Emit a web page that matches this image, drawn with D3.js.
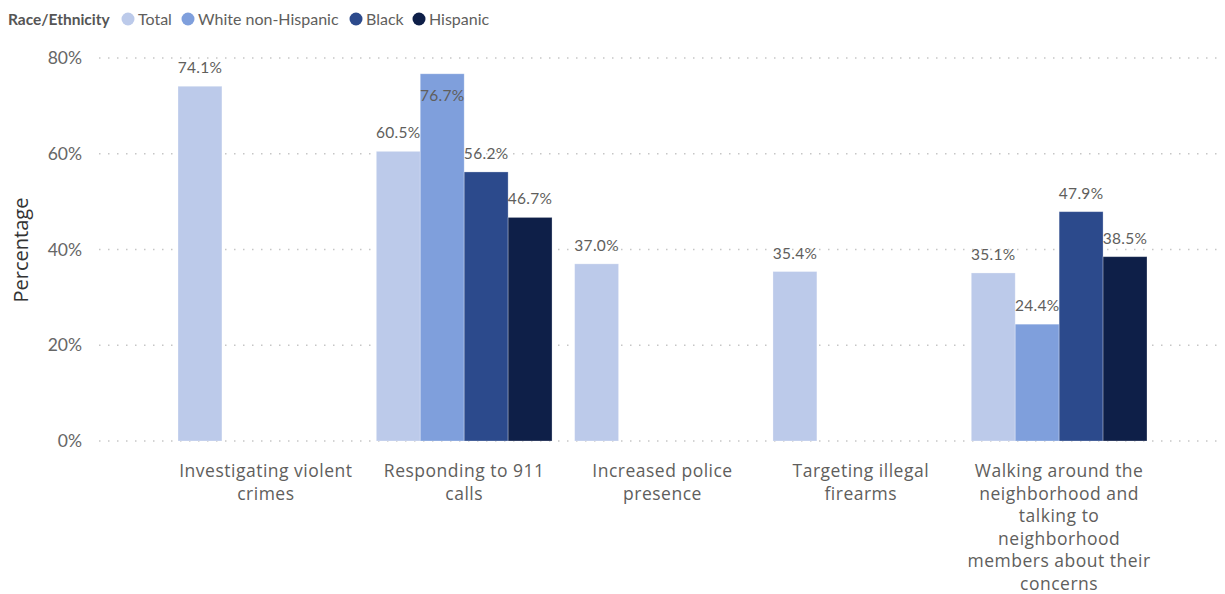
<!DOCTYPE html>
<html>
<head>
<meta charset="utf-8">
<script src="https://cdn.jsdelivr.net/npm/d3@7/dist/d3.min.js"></script>
<style>
  html, body { margin: 0; padding: 0; background: #fff; }
  svg { display: block; font-family: Lato, "Open Sans", sans-serif; }
</style>
</head>
<body>
<svg id="chart" width="1225" height="594"></svg>
<script>
// Police activities rated as important, by race/ethnicity (percent)
const categories = [
  ["Investigating violent", "crimes"],
  ["Responding to 911", "calls"],
  ["Increased police", "presence"],
  ["Targeting illegal", "firearms"],
  ["Walking around the", "neighborhood and", "talking to", "neighborhood", "members about their", "concerns"]
];
const seriesNames = ["Total", "White non-Hispanic", "Black", "Hispanic"];
const seriesColors = ["#bccaea", "#7f9fdc", "#2c4a8c", "#0e1f48"];
const total    = [74.1, 60.5, 37.0, 35.4, 35.1];
const white    = [null, 76.7, null, null, 24.4];
const black    = [null, 56.2, null, null, 47.9];
const hispanic = [null, 46.7, null, null, 38.5];
const yTicks = [0, 20, 40, 60, 80];

const seriesValues = [total, white, black, hispanic];
const svg = d3.select("#chart");

const x0 = d3.scaleBand()
  .domain(d3.range(categories.length))
  .range([166.7, 1158.3])
  .paddingInner(0.114)
  .paddingOuter(0.057);
const x1 = d3.scaleBand()
  .domain(seriesNames)
  .range([0, x0.bandwidth()]);
const y = d3.scaleLinear().domain([0, 80]).range([441, 58]);

// gridlines
const grid = svg.append("g");
grid.selectAll("line").data(yTicks).join("line")
  .attr("x1", 99).attr("x2", 1220)
  .attr("y1", d => y(d)).attr("y2", d => y(d))
  .attr("stroke", "#c6c6c6").attr("stroke-width", 1.5)
  .attr("stroke-dasharray", "1.5,7.5");

// y axis labels
const yAxis = d3.axisLeft(y).tickValues(yTicks).tickFormat(d => d + "%").tickSize(0).tickPadding(0);
const ya = svg.append("g").attr("transform", "translate(82,0)").call(yAxis);
ya.select(".domain").remove();
ya.selectAll("text").attr("fill", "#666").style("font-size", "17.5px").style("font-family", "Lato, sans-serif");

svg.append("text")
  .attr("transform", "translate(28,250) rotate(-90)")
  .attr("text-anchor", "middle")
  .attr("fill", "#333")
  .style("font-family", "'Open Sans', sans-serif")
  .style("font-size", "20px")
  .text("Percentage");

// bars
const flat = [];
seriesValues.forEach((vals, si) => {
  vals.forEach((v, ci) => {
    if (v != null) flat.push({ si, ci, v });
  });
});

svg.append("g").selectAll("rect").data(flat).join("rect")
  .attr("x", d => x0(d.ci) + x1(seriesNames[d.si]))
  .attr("width", x1.bandwidth())
  .attr("y", d => y(d.v))
  .attr("height", d => y(0) - y(d.v))
  .attr("fill", d => seriesColors[d.si])
  .attr("stroke", "rgba(255,255,255,0.35)")
  .attr("stroke-width", 0.8);

// value labels: above the bar, or inside when there is no room
svg.append("g").selectAll("text").data(flat).join("text")
  .attr("x", d => x0(d.ci) + x1(seriesNames[d.si]) + x1.bandwidth() / 2)
  .attr("y", d => {
    const top = y(d.v);
    return (top - 13 - 11 < 52) ? top + 27 : top - 13;
  })
  .attr("text-anchor", "middle")
  .attr("fill", "#605e5c")
  .style("font-size", "15.5px")
  .style("letter-spacing", "0.3px")
  .text(d => d.v.toFixed(1) + "%");

// category labels
const xl = svg.append("g")
  .style("font-family", "'Open Sans', sans-serif");
categories.forEach((lines, ci) => {
  const cx = x0(ci) + x0.bandwidth() / 2;
  const t = xl.append("text")
    .attr("x", cx)
    .attr("y", 477)
    .attr("text-anchor", "middle")
    .attr("fill", "#605e5c")
    .style("font-size", "17.5px")
    .style("letter-spacing", "0.5px");
  lines.forEach((ln, i) => {
    t.append("tspan").attr("x", cx).attr("dy", i === 0 ? 0 : 22.5).text(ln);
  });
});

// legend
const lg = svg.append("g").attr("transform", "translate(0,19)");
lg.append("text").attr("x", 8).attr("y", 5.5)
  .attr("fill", "#555").style("font-size", "15.5px").style("font-weight", "bold")
  .text("Race/Ethnicity");
const legendX = [128, 188, 356, 419];
seriesNames.forEach((name, i) => {
  lg.append("circle").attr("cx", legendX[i]).attr("cy", 0).attr("r", 6.5).attr("fill", seriesColors[i]);
  lg.append("text").attr("x", legendX[i] + 10).attr("y", 5.5)
    .attr("fill", "#605e5c").style("font-size", "16px").text(name);
});
</script>
</body>
</html>
